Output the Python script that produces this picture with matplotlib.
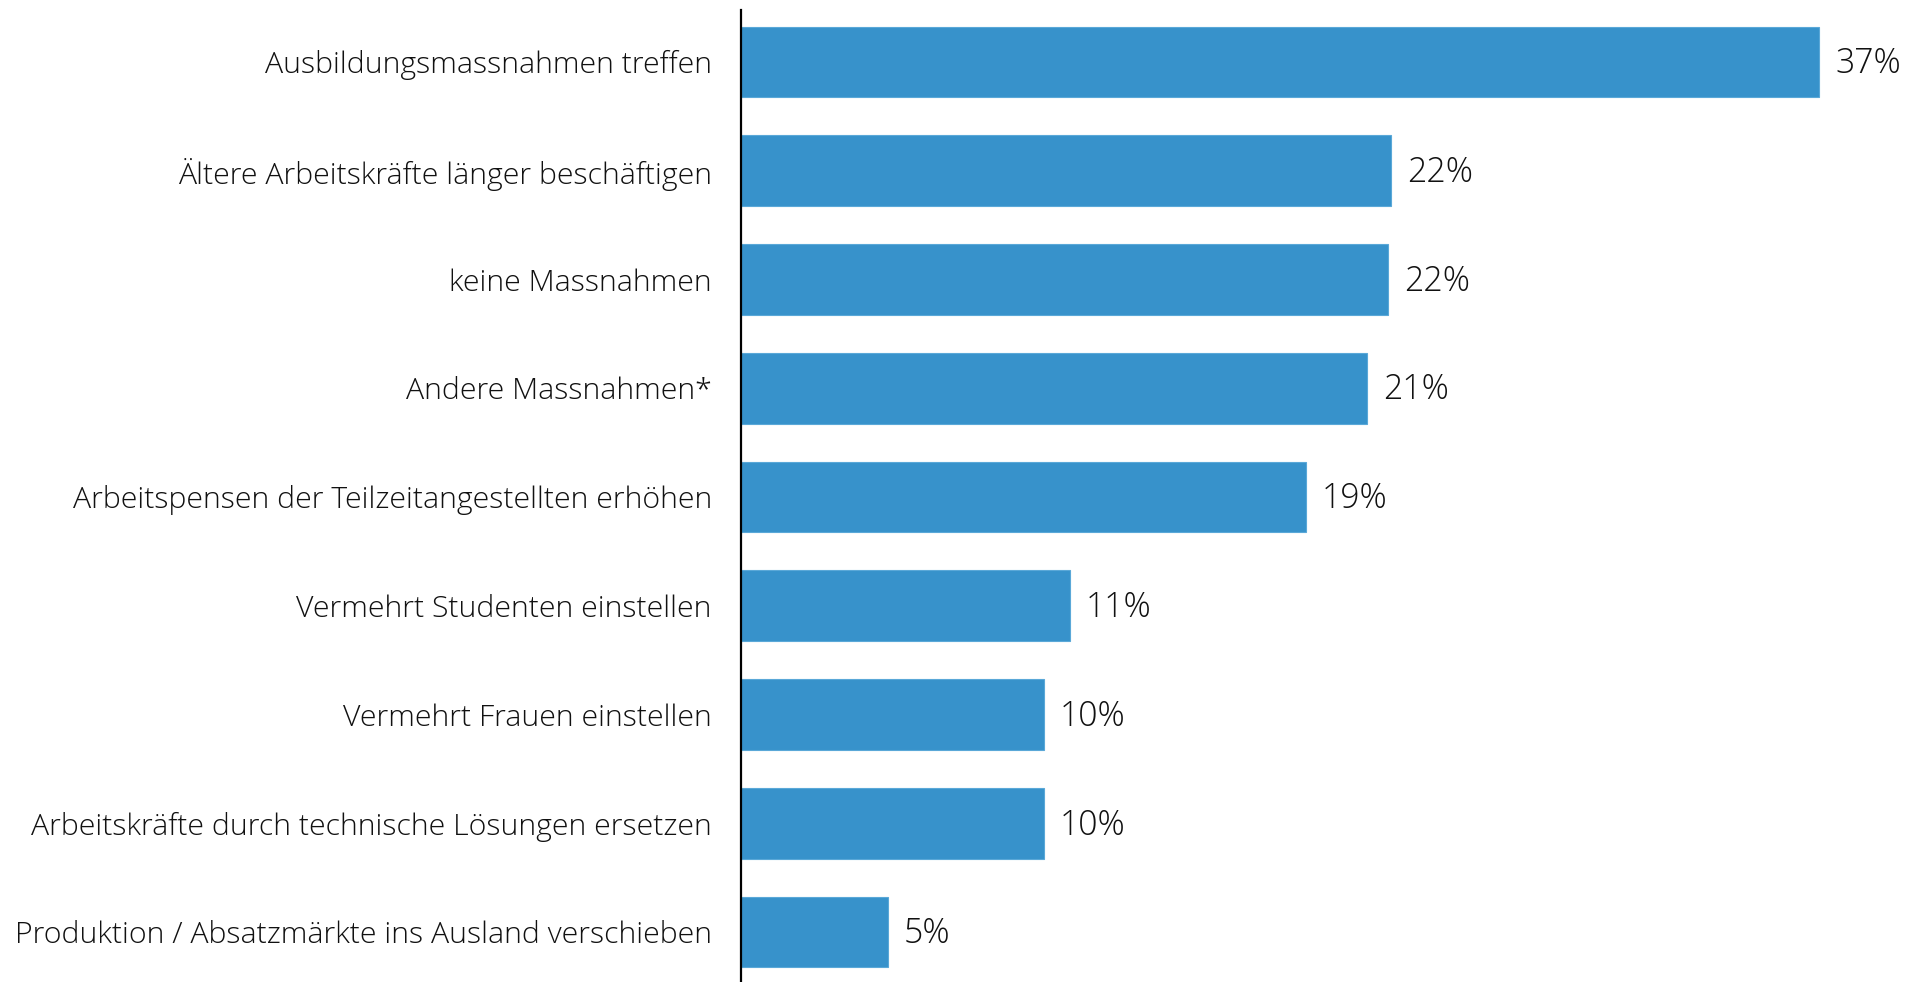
import matplotlib.pyplot as plt

categories = [
    "Ausbildungsmassnahmen treffen",
    "Ältere Arbeitskräfte länger beschäftigen",
    "keine Massnahmen",
    "Andere Massnahmen*",
    "Arbeitspensen der Teilzeitangestellten erhöhen",
    "Vermehrt Studenten einstellen",
    "Vermehrt Frauen einstellen",
    "Arbeitskräfte durch technische Lösungen ersetzen",
    "Produktion / Absatzmärkte ins Ausland verschieben",
]
values = [37.0, 22.3, 22.2, 21.5, 19.4, 11.3, 10.4, 10.4, 5.05]
value_labels = ["37%", "22%", "22%", "21%", "19%", "11%", "10%", "10%", "5%"]

plt.rcParams['font.family'] = ['Open Sans', 'DejaVu Sans']

fig = plt.figure(figsize=(19.23, 9.82), dpi=100)
ax = fig.add_axes([741 / 1923, 0.0, 1 - 741 / 1923, 1 - 10 / 982])

pos = list(range(len(categories)))
ax.barh(pos, values, height=0.65, color="#3792cb", edgecolor="#5aa8d8", linewidth=0.8)

for p, v, lab in zip(pos, values, value_labels):
    ax.annotate(lab, (v, p), xytext=(11.5, -1.5), textcoords="offset points",
                ha="left", va="center", fontsize=24.3, fontweight="light",
                color="#111111")

ax.set_xlim(0, 40.57)
ax.set_ylim(8.46, -0.477)
ax.set_yticks(pos)
ax.set_yticklabels(categories, fontsize=21.8, fontweight="light", color="#111111")
ax.tick_params(axis="y", length=0, pad=21)
ax.set_xticks([])
for s in ["top", "right", "bottom"]:
    ax.spines[s].set_visible(False)
ax.spines["left"].set_linewidth(1.6)
ax.spines["left"].set_color("black")

fig.savefig("out.png", dpi=100)
